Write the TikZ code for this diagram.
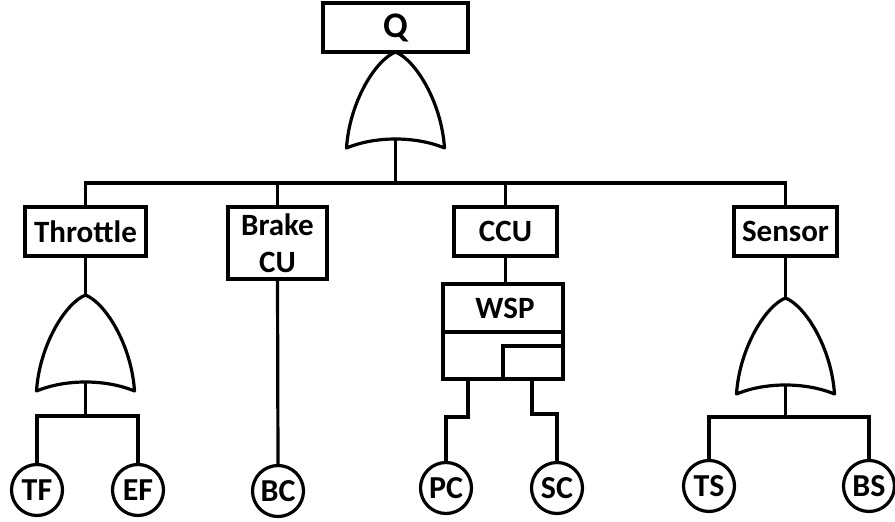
\documentclass[tikz,border=0pt]{standalone}
\usepackage{fontspec}
\setmainfont{Carlito}
\usetikzlibrary{positioning}

\begin{document}
\begin{tikzpicture}[
  x=1pt, y=-1pt,
  font=\bfseries\fontsize{31}{37}\selectfont,
  wire/.style={line width=3.2pt},
  gateline/.style={line width=3.2pt, line join=round},
  box/.style={draw, line width=3.2pt, inner sep=0pt, outer sep=0pt, minimum height=49pt, align=center},
  leaf/.style={circle, draw, line width=3.2pt, inner sep=0pt, outer sep=0pt, minimum size=51pt,
    font=\bfseries\fontsize{32}{37}\selectfont},
  orgate/.pic={
    \draw[gateline] (0,0) .. controls (-20,8) and (-46,50) .. (-49,96)
      .. controls (-20,84) and (20,84) .. (49,96)
      .. controls (46,50) and (20,8) .. cycle;
    \coordinate (-in) at (0,0);
    \coordinate (-out) at (0,87);
  }
]

\useasboundingbox (0,0) rectangle (895,522);

\def\yBus{183}
\def\yBox{231.5}

% ------------------------
% Top event and main OR gate
% ------------------------
\node[box, minimum width=145pt, font=\bfseries\fontsize{36}{40}\selectfont] (top) at (395.5,27.5) {Q};
\pic (gTop) at (top.south) {orgate};
\coordinate (busTop) at (gTop-out |- 0,\yBus);
\draw[wire] (gTop-out) -- (busTop);

% Subsystem boxes
\node[box, minimum width=121pt] (throttle) at (85.5,\yBox) {Throttle};
\node[box, minimum width=99pt, minimum height=72pt] (brake) at (277.5,243) {Brake\\CU};
\node[box, minimum width=103pt] (ccu) at (505.5,\yBox) {CCU};
\node[box, minimum width=103pt] (sensor) at (785.5,\yBox) {Sensor};

\draw[wire] (throttle.north) |- (busTop) -| (sensor.north);
\draw[wire] (brake.north) -- (brake.north |- busTop);
\draw[wire] (ccu.north) -- (ccu.north |- busTop);

% Throttle branch
\pic (gThr) at (85.5,295) {orgate};
\draw[wire] (throttle.south) -- (gThr-in);
\coordinate (busThr) at (85.5,416);
\draw[wire] (gThr-out) -- (busThr);
\node[leaf] (tf) at (37,490) {TF};
\node[leaf] (ef) at (138,490) {EF};
\draw[wire] (tf.north) |- (busThr) -| (ef.north);

% Brake branch
\node[leaf] (bc) at (278,491) {BC};
\draw[wire] (brake.south) -- (bc.north);

% CCU branch with WSP gate
\node[box, minimum width=120pt, minimum height=95pt] (wsp) at (503,331.5) {};
\node (wspText) at (505,308) {WSP};
\draw[wire] (ccu.south) -- (ccu.south |- wsp.north);
\draw[wire] (wsp.west |- 0,332) -- (wsp.east |- 0,332);
\draw[wire] (wsp.south east) rectangle (wsp.south |- 0,346);

\node[leaf] (pc) at (446,488) {PC};
\node[leaf] (sc) at (557,488) {SC};
\draw[wire] (wsp.south west) ++(25,0) -- ++(0,38) -| (pc.north);
\draw[wire] (wsp.south east) ++(-31,0) -- ++(0,35) -| (sc.north);

% Sensor branch
\pic (gSen) at (785.5,298) {orgate};
\draw[wire] (sensor.south) -- (gSen-in);
\coordinate (busSen) at (785.5,417);
\draw[wire] (gSen-out) -- (busSen);
\node[leaf] (ts) at (709,486) {TS};
\node[leaf] (bs) at (869,486) {BS};
\draw[wire] (ts.north) |- (busSen) -| (bs.north);

\end{tikzpicture}
\end{document}
